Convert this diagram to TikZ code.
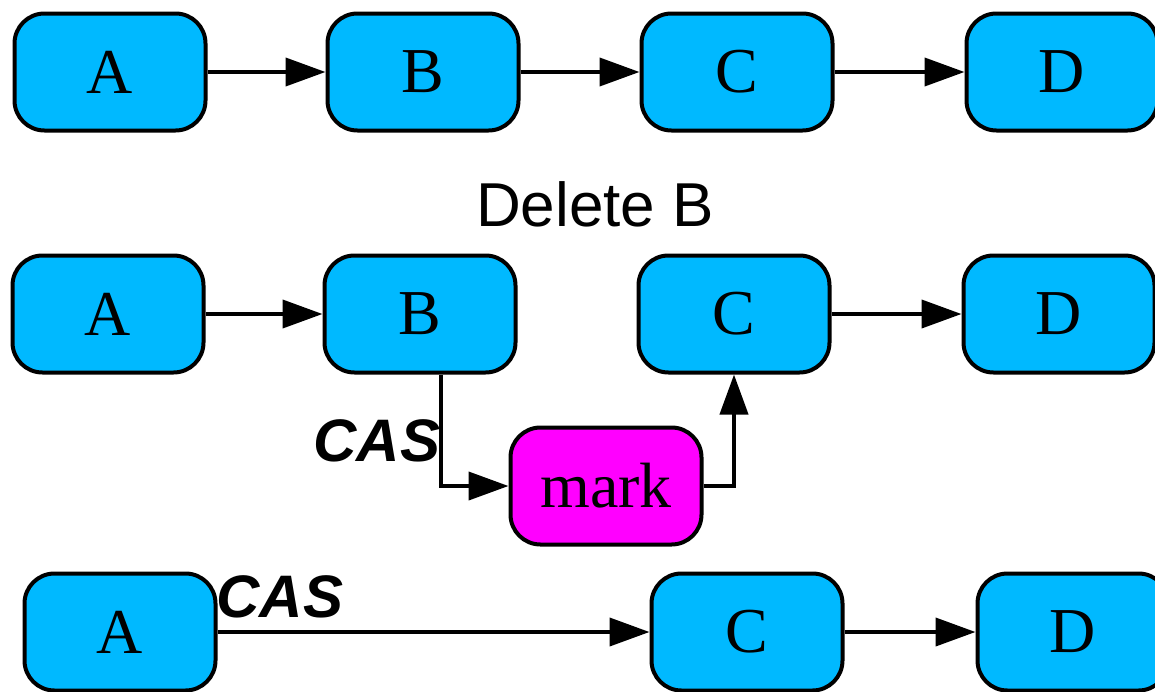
\documentclass[tikz,border=0pt]{standalone}
\usepackage{fontspec}
\setmainfont{Liberation Serif}
\newfontfamily\labelsans{Liberation Sans}
\usetikzlibrary{arrows.meta,calc}

\definecolor{nodeblue}{RGB}{0,185,255}
\definecolor{markpink}{RGB}{255,0,255}

\tikzset{
  listnode/.style={draw=black, line width=4pt, fill=nodeblue, rounded corners=30pt,
    minimum width=191pt, minimum height=117pt, inner sep=0pt,
    font=\fontsize{64}{70}\selectfont},
  marknode/.style={listnode, fill=markpink},
  link/.style={line width=4pt, -{Triangle[length=40pt,width=28pt]}},
  caslabel/.style={inner sep=0pt, font=\labelsans\bfseries\itshape\fontsize{60}{66}\selectfont},
  titlelabel/.style={inner sep=0pt, font=\labelsans\fontsize{62}{68}\selectfont}
}

\begin{document}
\begin{tikzpicture}[x=1pt, y=-1pt]
  \useasboundingbox (0,0) rectangle (1155,691);

  % original list
  \node[listnode] (A1) at (110,72) {A};
  \node[listnode] (B1) at (423,72) {B};
  \node[listnode] (C1) at (737,72) {C};
  \node[listnode] (D1) at (1062,72) {D};
  \draw[link] (A1.east) -- (B1.west);
  \draw[link] (B1.east) -- (C1.west);
  \draw[link] (C1.east) -- (D1.west);

  \node[titlelabel] (title) at (595,204) {Delete B};

  % marking the successor pointer of B
  \node[listnode] (A2) at (108,314) {A};
  \node[listnode] (B2) at (420,314) {B};
  \node[listnode] (C2) at (734,314) {C};
  \node[listnode] (D2) at (1059,314) {D};
  \node[marknode] (mark) at (606,486) {mark};
  \draw[link] (A2.east) -- (B2.west);
  \draw[link] (C2.east) -- (D2.west);
  \draw[link] ([xshift=21pt]B2.south) |- (mark.west);
  \draw[link] (mark.east) -| (C2.south);
  \node[caslabel] (cas1) at (377,441) {CAS};

  % B unlinked
  \node[listnode] (A3) at (120,632) {A};
  \node[listnode] (C3) at (747,632) {C};
  \node[listnode] (D3) at (1073,632) {D};
  \draw[link] (A3.east) -- (C3.west);
  \draw[link] (C3.east) -- (D3.west);
  \node[caslabel] (cas2) at (280,597) {CAS};
\end{tikzpicture}
\end{document}
